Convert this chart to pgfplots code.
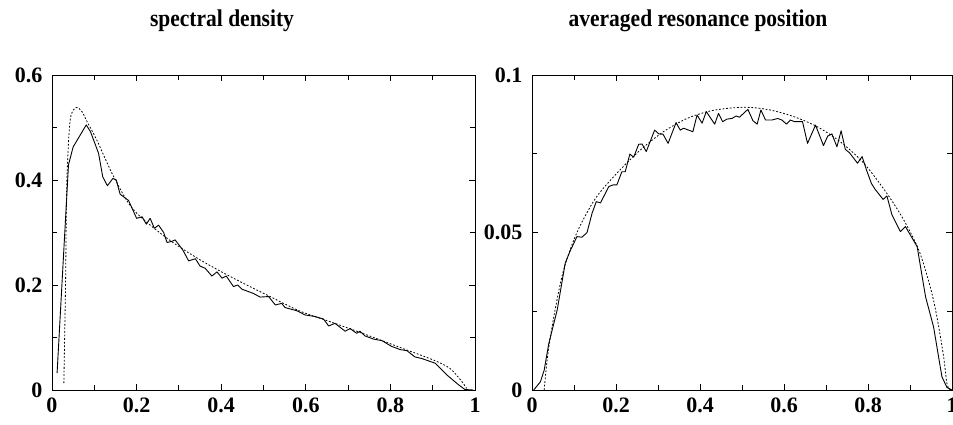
\documentclass[border=0pt]{standalone}
\usepackage{pgfplots}
\pgfplotsset{compat=1.18}
\usepackage{fontspec}
\setmainfont{Liberation Serif}

\begin{document}
\begin{tikzpicture}
\useasboundingbox (0pt,0pt) rectangle (953pt,424pt);
\pgfplotsset{
  myaxis/.style={
    scale only axis,
    width=423pt, height=315pt,
    axis line style={line width=0.9pt},
    tick align=inside,
    major tick length=6pt, minor tick length=5pt,
    every tick/.style={black, line width=0.9pt},
    tick label style={font=\fontsize{22}{24}\selectfont\bfseries},
    scaled ticks=false,
    xmin=0, xmax=1, ymin=0,
    xtick={0,0.2,0.4,0.6,0.8,1},
    xticklabels={0,0.2,0.4,0.6,0.8,1},
    minor x tick num=1,
    minor y tick num=1,
    xticklabel style={yshift=-4pt},
    yticklabel style={xshift=-6pt},
  },
  solidl/.style={black, line width=0.9pt, line join=round},
  dashl/.style={black, line width=0.8pt, dash pattern=on 1.8pt off 1.8pt},
}
\begin{axis}[myaxis, at={(52pt,34pt)}, anchor=south west,
  ymax=0.6, ytick={0,0.2,0.4,0.6}, yticklabels={0,0.2,0.4,0.6}]
\addplot[solidl] coordinates {
(0.012,0.032) (0.039,0.429) (0.05,0.463) (0.081,0.505) (0.091,0.492) (0.11,0.451)
(0.12,0.406) (0.131,0.389) (0.144,0.403) (0.152,0.4) (0.161,0.373) (0.181,0.361)
(0.2,0.327) (0.213,0.330) (0.223,0.316) (0.232,0.327) (0.242,0.308) (0.252,0.314)
(0.264,0.300) (0.272,0.281) (0.283,0.283) (0.291,0.286) (0.309,0.267) (0.323,0.246)
(0.339,0.25) (0.350,0.236) (0.362,0.232) (0.378,0.217) (0.39,0.225) (0.402,0.213)
(0.412,0.217) (0.429,0.197) (0.439,0.2) (0.449,0.192) (0.476,0.184) (0.492,0.177)
(0.512,0.178) (0.528,0.162) (0.543,0.165) (0.551,0.157) (0.579,0.151) (0.598,0.143)
(0.622,0.140) (0.642,0.135) (0.654,0.122) (0.669,0.127) (0.693,0.112) (0.705,0.117)
(0.720,0.108) (0.728,0.112) (0.740,0.103) (0.760,0.097) (0.780,0.094) (0.803,0.083)
(0.823,0.077) (0.839,0.075) (0.858,0.063) (0.874,0.060) (0.906,0.051) (0.933,0.029)
(0.961,0.010) (0.976,0.001) (0.996,0)
};
\addplot[dashl, smooth] coordinates {
(0.028,0.013) (0.032,0.2) (0.035,0.394) (0.043,0.514) (0.057,0.538) (0.071,0.530)
(0.083,0.511) (0.106,0.476) (0.146,0.406) (0.193,0.343) (0.272,0.289) (0.350,0.248)
(0.429,0.213) (0.508,0.181) (0.587,0.150) (0.665,0.128) (0.744,0.105) (0.823,0.081)
(0.902,0.057) (0.941,0.041) (0.969,0.016) (0.980,0.003)
};
\end{axis}
\begin{axis}[myaxis, at={(532pt,34pt)}, anchor=south west, width=420pt,
  ymax=0.1, ytick={0,0.05,0.1}, yticklabels={0,0.05,0.1}]
\addplot[solidl] coordinates {
(0.004,0) (0.020,0.0026) (0.029,0.0063) (0.040,0.0148) (0.060,0.0254) (0.079,0.0402)
(0.090,0.0439) (0.107,0.0487) (0.119,0.0485) (0.131,0.050) (0.143,0.0561) (0.153,0.0598)
(0.163,0.0594) (0.183,0.0646) (0.193,0.0651) (0.202,0.0651) (0.214,0.0693) (0.222,0.0693)
(0.233,0.0749) (0.242,0.0739) (0.254,0.0780) (0.262,0.0781) (0.272,0.0757) (0.292,0.0825)
(0.302,0.0813) (0.312,0.0812) (0.324,0.0783) (0.343,0.0849) (0.353,0.0825) (0.361,0.0831)
(0.383,0.0820) (0.393,0.0873) (0.405,0.0847) (0.415,0.0884) (0.435,0.0844) (0.444,0.0878)
(0.454,0.0852) (0.464,0.0860) (0.476,0.0862) (0.486,0.0870) (0.494,0.0866) (0.514,0.0891)
(0.526,0.0855) (0.536,0.0844) (0.545,0.0889) (0.556,0.0857) (0.571,0.0857) (0.585,0.0862)
(0.595,0.0857) (0.606,0.0844) (0.615,0.0857) (0.625,0.0852) (0.644,0.0852) (0.656,0.0783)
(0.675,0.0841) (0.694,0.0776) (0.704,0.0806) (0.714,0.0813) (0.726,0.0772) (0.736,0.0823)
(0.746,0.0764) (0.756,0.0753) (0.775,0.0720) (0.786,0.0741) (0.796,0.0700) (0.808,0.0656)
(0.817,0.0637) (0.836,0.0605) (0.845,0.0616) (0.857,0.0556) (0.877,0.0503) (0.889,0.0519)
(0.917,0.0455) (0.937,0.0296) (0.956,0.0201) (0.976,0.0042) (0.988,0.0008) (1.0,0)
};
\addplot[dashl, smooth] coordinates {
(0.029,0) (0.037,0.0106) (0.052,0.0233) (0.075,0.038) (0.107,0.050) (0.151,0.0608)
(0.202,0.0688) (0.258,0.0762) (0.313,0.0820) (0.369,0.0862) (0.425,0.0886) (0.480,0.0896)
(0.520,0.0897) (0.567,0.0889) (0.623,0.0868) (0.679,0.0836) (0.734,0.0788) (0.790,0.0720)
(0.845,0.0624) (0.885,0.054) (0.921,0.0444) (0.948,0.0328) (0.964,0.0233) (0.980,0.0106)
(0.988,0.002) (0.996,0)
};
\end{axis}
\node[anchor=base, yscale=1.12, font=\fontsize{21.5}{24}\selectfont\bfseries] at (222pt,397pt) {spectral density};
\node[anchor=base, yscale=1.12, font=\fontsize{21.5}{24}\selectfont\bfseries] at (698pt,397pt) {averaged resonance position};
\end{tikzpicture}
\end{document}
